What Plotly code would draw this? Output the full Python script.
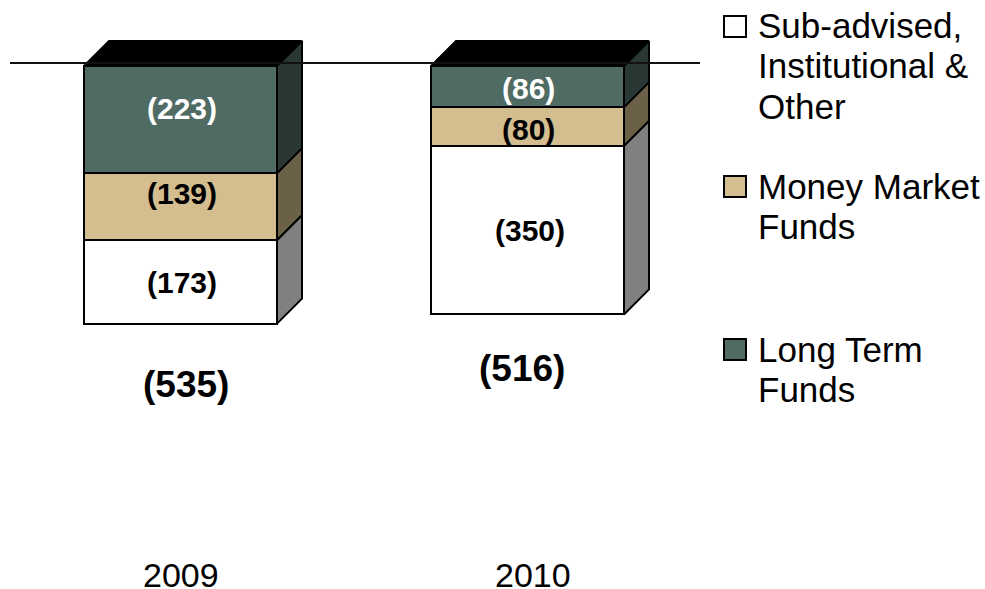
import plotly.graph_objects as go

W, H = 985, 589
years = ["2009", "2010"]
long_term = [223, 86]
money_market = [139, 80]
sub_advised = [173, 350]
totals = [535, 516]
series_names = ["Long Term Funds", "Money Market Funds", "Sub-advised, Institutional & Other"]

FONT = "Liberation Sans, Arial, sans-serif"
series = [
    (long_term, "#4F6B64", "#2A3835", "white"),
    (money_market, "#D4BD8E", "#6B6048", "black"),
    (sub_advised, "#FFFFFF", "#808080", "black"),
]

# pixel geometry of the plot, used only to set the axis ranges
PX_PER_X, PX_PER_Y = 347.0, 0.4815
X0_PX, Y0_PX = 180.5, 66.0
x_range = [-X0_PX / PX_PER_X, (W - X0_PX) / PX_PER_X]
y_range = [-(H - Y0_PX) / PX_PER_Y, Y0_PX / PX_PER_Y]
BAR_W = 193 / PX_PER_X
DX, DY = 25 / PX_PER_X, 25 / PX_PER_Y
xs = [0, 1]

fig = go.Figure()


def poly(x, y, fill):
    fig.add_trace(go.Scatter(x=x + x[:1], y=y + y[:1], mode="lines", fill="toself", fillcolor=fill,
                             line=dict(color="black", width=2), hoverinfo="skip", showlegend=False))


# front faces, stacked downward from zero
for (vals, face, side, _), name in zip(series, series_names):
    fig.add_trace(go.Bar(x=xs, y=[-v for v in vals], width=BAR_W, name=name, showlegend=False,
                         marker=dict(color=face, line=dict(color="black", width=2))))

# side and top faces, computed from the same values
for i, x in enumerate(xs):
    r = x + BAR_W / 2
    l = x - BAR_W / 2
    top = 0
    poly([l, r, r + DX, l + DX], [0, 0, DY, DY], "black")
    for vals, face, side, _ in series:
        bottom = top - vals[i]
        poly([r, r + DX, r + DX, r], [top, top + DY, bottom + DY, bottom], side)
        top = bottom

# horizontal reference line just above zero
LINE_Y = 3 / PX_PER_Y
fig.add_trace(go.Scatter(x=[(10 - X0_PX) / PX_PER_X, (700 - X0_PX) / PX_PER_X], y=[LINE_Y, LINE_Y],
                         mode="lines", line=dict(color="#111111", width=2), hoverinfo="skip", showlegend=False))


def text(px, py, s, size, color="black", bold=False, align="center", anchor="center", height=None):
    fig.add_annotation(xref="paper", yref="paper", x=px / W, y=1 - py / H, text=f"<b>{s}</b>" if bold else s,
                       showarrow=False, xanchor=anchor, yanchor="middle", align=align, height=height,
                       font=dict(family=FONT, size=size, color=color))


label_px = [
    [(182, 109), (182, 193), (182, 282)],
    [(528, 89), (528, 130), (530, 230)],
]
for i in range(2):
    for j, (vals, _, _, col) in enumerate(series):
        text(*label_px[i][j], f"({vals[i]})", 30, col, True)

for (px, py), t in zip([(186, 385), (522, 368)], totals):
    text(px, py, f"({t})", 37, bold=True)
for px, y in zip([181, 533], years):
    text(px, 575, y, 34, height=24)

# legend
legend_items = [
    (26, ["Sub-advised,", "Institutional &", "Other"], "#FFFFFF"),
    (186, ["Money Market", "Funds"], "#D4BD8E"),
    (349, ["Long Term", "Funds"], "#4F6B64"),
]
for sw_y, lines, color in legend_items:
    fig.add_shape(type="rect", xref="paper", yref="paper", x0=724 / W, x1=746 / W,
                  y0=1 - (sw_y - 10) / H, y1=1 - (sw_y + 11) / H,
                  fillcolor=color, line=dict(color="black", width=2))
    for k, line in enumerate(lines):
        text(756, sw_y + 40 * k, line, 35, align="left", anchor="left")

fig.update_layout(
    width=W, height=H, margin=dict(l=0, r=0, t=0, b=0), barmode="relative", bargap=0,
    paper_bgcolor="white", plot_bgcolor="white", showlegend=False,
    xaxis=dict(range=x_range, visible=False, fixedrange=True),
    yaxis=dict(range=y_range, visible=False, fixedrange=True),
)
fig.write_html("out.html", config={"displayModeBar": False},
               post_script="document.body.style.margin='0';document.documentElement.style.overflow='hidden';")
